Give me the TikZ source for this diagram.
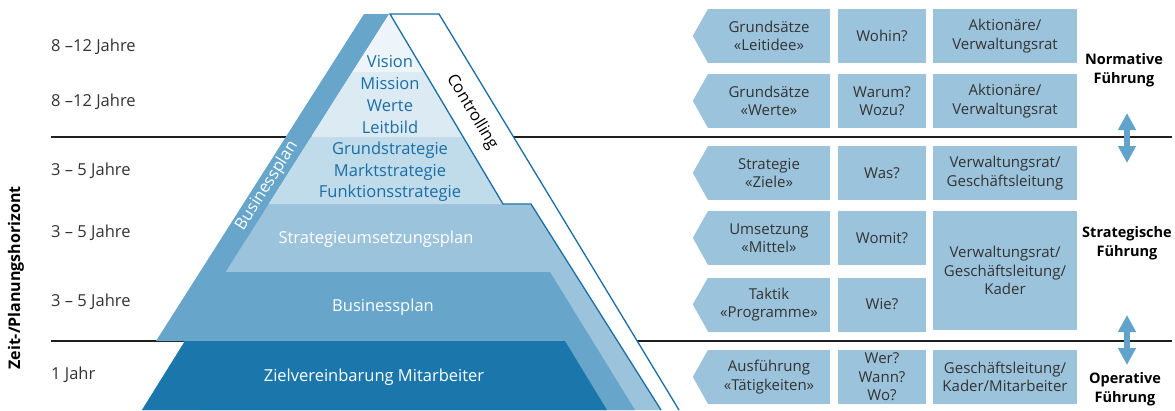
\documentclass[tikz,border=0pt]{standalone}
\usepackage{fontspec}
\setmainfont{Open Sans}
\usetikzlibrary{arrows.meta,positioning}

\definecolor{zielblue}{HTML}{1B77AB}
\definecolor{planblue}{HTML}{67A6CA}
\definecolor{umsblue}{HTML}{9BC3DC}
\definecolor{grundblue}{HTML}{C0DBEA}
\definecolor{misblue}{HTML}{DCEAF4}
\definecolor{visblue}{HTML}{EEF5FA}
\definecolor{pyrtext}{HTML}{1A6EA6}
\definecolor{cellblue}{HTML}{9BC3DC}
\definecolor{greytext}{HTML}{333333}
\definecolor{arrblue}{HTML}{62A3CC}

\tikzset{
  yearlbl/.style={anchor=west,inner xsep=0pt,text=greytext,font=\fontsize{16.5}{18}\selectfont},
  pyrlbl/.style={text=pyrtext,font=\fontsize{16.5}{18}\selectfont},
  bandlbl/.style={text=white,font=\fontsize{16.5}{18}\selectfont},
  cell/.style={fill=cellblue,text=greytext,align=center,inner sep=0pt,
    minimum height=54pt,font=\fontsize{15}{18.5}\selectfont},
  lead/.style={align=center,text=black,font=\bfseries\fontsize{14.5}{18.5}\selectfont},
  updown/.style={arrblue,line width=6pt,{Triangle[width=17pt,length=17pt]}-{Triangle[width=17pt,length=17pt]}}
}

\begin{document}
\begin{tikzpicture}[x=1pt,y=-1pt]
\useasboundingbox (0,0) rectangle (1175,410);

% Trennlinien
\draw[line width=2pt,black!88] (51,137) -- (1172,137);
\draw[line width=2pt,black!88] (51,341) -- (1172,341);

% Pyramide
\fill[umsblue] (268.7,204) -- (531,204) -- (661,410) -- (200,410) -- (225.7,272) -- cycle;
\fill[planblue] (364,14) -- (389,14) -- (225.7,272) -- (550,272) -- (635,410) -- (142,410) -- (185,341) -- (156,341) -- cycle;
\fill[zielblue] (185,341) -- (565,341) -- (607,410) -- (142,410) -- cycle;
\fill[grundblue] (311.1,137) -- (463.2,137) -- (503,204) -- (268.7,204) -- cycle;
\fill[misblue] (352.3,72) -- (424.5,72) -- (463.2,137) -- (311.1,137) -- cycle;
\fill[visblue] (390,14) -- (424.5,72) -- (352.3,72) -- cycle;

% Controlling
\fill[white] (390,14) -- (439,14) -- (679,410) -- (661,410) -- (531,204) -- (503,204) -- cycle;
\draw[pyrtext,line width=1.3pt] (661,410) -- (531,204) -- (503,204) -- (390,14) -- (439,14) -- (679,410);

\node[pyrlbl] (vis) at (390,62) {Vision};
\node[pyrlbl] (mis) at (390,84) {Mission};
\node[pyrlbl] (wer) at (390,106) {Werte};
\node[pyrlbl] (lei) at (390,127) {Leitbild};
\node[pyrlbl] (gru) at (390,150) {Grundstrategie};
\node[pyrlbl] (mar) at (390,172) {Marktstrategie};
\node[pyrlbl] (fun) at (390,193) {Funktionsstrategie};
\node[bandlbl] (ums) at (376,239) {Strategieumsetzungsplan};
\node[bandlbl] (bus) at (383,307) {Businessplan};
\node[bandlbl] (zie) at (374,377) {Zielvereinbarung Mitarbeiter};
\node[bandlbl,rotate=57.7] (bsl) at (267,186) {Businessplan};
\node[text=black,font=\fontsize{16.5}{18}\selectfont,rotate=-59] (con) at (472,112) {Controlling};

% Zeithorizont
\node[font=\bfseries\fontsize{16}{18}\selectfont,rotate=90] (zei) at (16,278) {Zeit-/Planungshorizont};
\node[yearlbl] (j1) at (51,47) {8 –12 Jahre};
\node[yearlbl] (j2) at (51,102) {8 –12 Jahre};
\node[yearlbl] (j3) at (51,171) {3 – 5 Jahre};
\node[yearlbl] (j4) at (51,233) {3 – 5 Jahre};
\node[yearlbl] (j5) at (51,302) {3 – 5 Jahre};
\node[yearlbl] (j6) at (51,375) {1 Jahr};

% Tabelle rechts
\node[cell,minimum width=122pt] (a1) at (769,36) {Grundsätze\\«Leitidee»};
\node[cell,minimum width=122pt] (a2) at (769,101) {Grundsätze\\«Werte»};
\node[cell,minimum width=122pt] (a3) at (769,173) {Strategie\\«Ziele»};
\node[cell,minimum width=122pt] (a4) at (769,238) {Umsetzung\\«Mittel»};
\node[cell,minimum width=122pt] (a5) at (769,304.5) {Taktik\\«Programme»};
\node[cell,minimum width=122pt] (a6) at (769,377) {Ausführung\\«Tätigkeiten»};
\foreach \n in {a1,a2,a3,a4,a5,a6}
  \fill[cellblue] ([xshift=0.3pt]\n.north west) -- ++(-15.3,27) -- ([xshift=0.3pt]\n.south west) -- cycle;

\node[cell,minimum width=88pt] (q1) at (882,36) {Wohin?};
\node[cell,minimum width=88pt] (q2) at (882,101) {Warum?\\Wozu?};
\node[cell,minimum width=88pt] (q3) at (882,173) {Was?};
\node[cell,minimum width=88pt] (q4) at (882,238) {Womit?};
\node[cell,minimum width=88pt] (q5) at (882,304.5) {Wie?};
\node[cell,minimum width=88pt] (q6) at (882,377) {Wer?\\Wann?\\Wo?};

\node[cell,minimum width=144pt] (t1) at (1005,36) {Aktionäre/\\Verwaltungsrat};
\node[cell,minimum width=144pt] (t2) at (1005,101) {Aktionäre/\\Verwaltungsrat};
\node[cell,minimum width=144pt] (t3) at (1005,173) {Verwaltungsrat/\\Geschäftsleitung};
\node[cell,minimum width=144pt,minimum height=119pt] (t4) at (1005,270.5) {Verwaltungsrat/\\Geschäftsleitung/\\Kader};
\node[cell,minimum width=144pt] (t6) at (1005,377) {Geschäftsleitung/\\Kader/Mitarbeiter};

\node[lead] (nor) at (1124,70) {Normative\\Führung};
\node[lead] (str) at (1127,243) {Strategische\\Führung};
\node[lead] (ope) at (1125,389) {Operative\\Führung};

\coordinate (u1) at (1127,113);
\coordinate (d1) at (1127,163);
\coordinate (u2) at (1127,315);
\coordinate (d2) at (1127,365);
\draw[updown] (u1) -- (d1);
\draw[updown] (u2) -- (d2);
\end{tikzpicture}
\end{document}
